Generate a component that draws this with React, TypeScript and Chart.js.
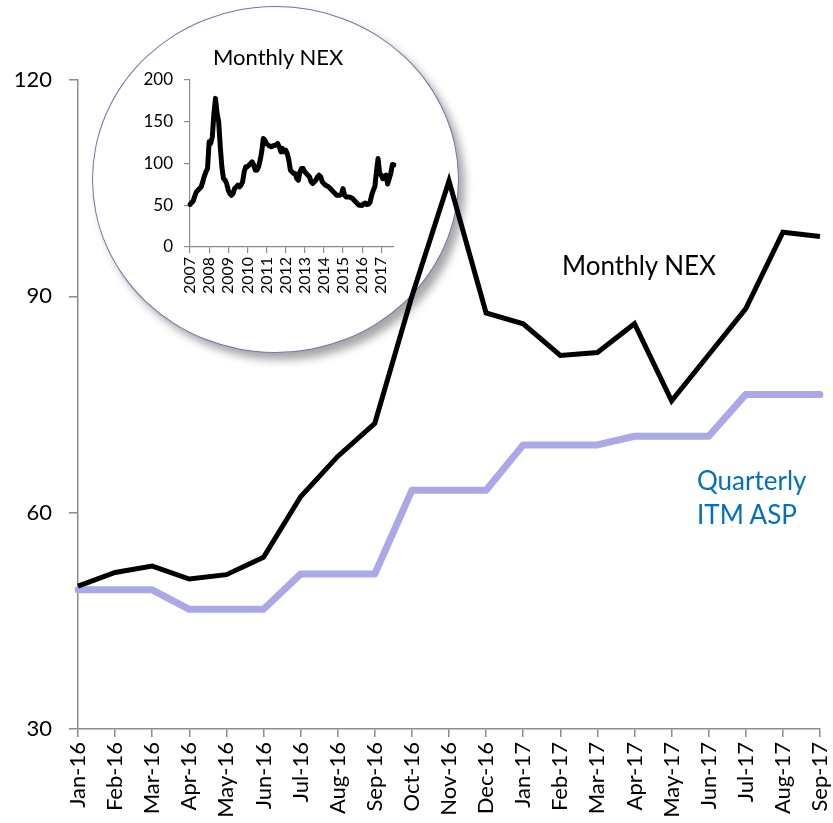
import React, { useEffect, useRef } from "react";
import { Chart, registerables } from "chart.js";

Chart.register(...registerables);

// ---- Main chart data ----
const months = [
  "Jan-16", "Feb-16", "Mar-16", "Apr-16", "May-16", "Jun-16", "Jul-16", "Aug-16", "Sep-16",
  "Oct-16", "Nov-16", "Dec-16", "Jan-17", "Feb-17", "Mar-17", "Apr-17", "May-17", "Jun-17",
  "Jul-17", "Aug-17", "Sep-17",
];
const monthlyNEX = [
  49.8, 51.7, 52.6, 50.8, 51.4, 53.8, 62.2, 67.8, 72.4, 90.0, 106.0, 87.7,
  86.2, 81.8, 82.2, 86.2, 75.5, 81.9, 88.3, 98.9, 98.3,
];
const quarterlyITMASP = [
  49.3, 49.3, 49.3, 46.6, 46.6, 46.6, 51.5, 51.5, 51.5, 63.1, 63.1, 63.1,
  69.4, 69.4, 69.4, 70.6, 70.6, 70.6, 76.4, 76.4, 76.4,
];
const mainYTicks = [30, 60, 90, 120];

// ---- Inset data (monthly, Jan 2007 - Dec 2015; 2016-2017 from monthlyNEX) ----
const insetYears = ["2007", "2008", "2009", "2010", "2011", "2012", "2013", "2014", "2015", "2016", "2017"];
const nex2007 = [51, 53, 55, 61, 66, 68, 70, 72, 78, 85, 90, 94];
const nex2008 = [126, 124, 132, 160, 178, 160, 150, 120, 96, 82, 80, 76];
const nex2009 = [68, 64, 62, 64, 70, 72, 74, 72, 74, 78, 90, 96];
const nex2010 = [96, 98, 100, 102, 98, 92, 92, 96, 104, 114, 130, 128];
const nex2011 = [124, 122, 121, 120, 121, 122, 122, 124, 120, 114, 118, 114];
const nex2012 = [116, 112, 104, 92, 90, 88, 88, 82, 80, 90, 94, 94];
const nex2013 = [90, 88, 86, 84, 78, 76, 78, 80, 84, 86, 84, 78];
const nex2014 = [76, 74, 73, 72, 70, 68, 66, 64, 62, 62, 62, 63];
const nex2015 = [70, 62, 60, 60, 60, 59, 58, 56, 54, 52, 50, 50];
const insetYTicks = [0, 50, 100, 150, 200];

const insetValues = [
  ...nex2007, ...nex2008, ...nex2009, ...nex2010, ...nex2011,
  ...nex2012, ...nex2013, ...nex2014, ...nex2015, ...monthlyNEX,
];
const insetLabels = insetValues.map((_, i) => insetYears[Math.floor(i / 12)] + "-" + ((i % 12) + 1));

const FONT = "Lato, 'Open Sans', sans-serif";
const AXIS = "#8c8c8c";

function MainChart() {
  const ref = useRef<HTMLCanvasElement | null>(null);
  useEffect(() => {
    const chart = new Chart(ref.current as HTMLCanvasElement, {
      type: "line",
      data: {
        labels: months,
        datasets: [
          {
            label: "Monthly NEX",
            data: monthlyNEX,
            borderColor: "#000000",
            borderWidth: 5,
            pointRadius: 0,
            tension: 0,
            borderJoinStyle: "miter",
          },
          {
            label: "Quarterly ITM ASP",
            data: quarterlyITMASP,
            borderColor: "#aaa8e6",
            borderWidth: 7,
            pointRadius: 0,
            tension: 0,
            borderCapStyle: "round",
            borderJoinStyle: "round",
          },
        ],
      },
      options: {
        responsive: false,
        animation: false,
        layout: { padding: { left: 0, top: 80, right: 13, bottom: 0 } },
        plugins: { legend: { display: false }, tooltip: { enabled: false }, title: { display: false } },
        scales: {
          x: {
            type: "category",
            offset: false,
            afterFit: (s: any) => { s.height = 94; s.paddingLeft = 0; s.paddingRight = 0; },
            grid: { drawOnChartArea: false, drawTicks: true, tickLength: 8, color: AXIS, lineWidth: 1.5 },
            border: { display: true, color: AXIS, width: 1.5 },
            ticks: {
              autoSkip: false,
              maxRotation: 90,
              minRotation: 90,
              padding: 5,
              color: "#000",
              font: { family: FONT, size: 22 },
            },
          },
          y: {
            min: 30,
            max: 120,
            afterFit: (s: any) => { s.width = 78; s.paddingTop = 0; s.paddingBottom = 0; },
            afterBuildTicks: (s: any) => { s.ticks = mainYTicks.map((v) => ({ value: v })); },
            grid: { drawOnChartArea: false, drawTicks: true, tickLength: 9, color: AXIS, lineWidth: 1.5 },
            border: { display: true, color: AXIS, width: 1.5 },
            ticks: {
              padding: 17,
              color: "#000",
              font: { family: FONT, size: 22 },
            },
          },
        },
      },
    });
    return () => chart.destroy();
  }, []);
  return (
    <canvas
      ref={ref}
      width={833}
      height={823}
      style={{ position: "absolute", left: 0, top: 0, width: 833, height: 823, zIndex: 3 }}
    />
  );
}

function InsetChart() {
  const ref = useRef<HTMLCanvasElement | null>(null);
  useEffect(() => {
    const chart = new Chart(ref.current as HTMLCanvasElement, {
      type: "line",
      data: {
        labels: insetLabels,
        datasets: [
          {
            label: "Monthly NEX",
            data: insetValues,
            borderColor: "#000000",
            borderWidth: 5,
            pointRadius: 0,
            tension: 0,
            borderJoinStyle: "round",
            borderCapStyle: "round",
          },
        ],
      },
      options: {
        responsive: false,
        animation: false,
        layout: { padding: { left: 0, top: 74, right: 65, bottom: 0 } },
        plugins: { legend: { display: false }, tooltip: { enabled: false }, title: { display: false } },
        scales: {
          x: {
            type: "category",
            offset: false,
            afterFit: (s: any) => { s.height = 106; s.paddingLeft = 0; s.paddingRight = 0; },
            grid: { drawOnChartArea: false, drawTicks: true, tickLength: 6, color: AXIS, lineWidth: 1.2 },
            border: { display: true, color: AXIS, width: 1.2 },
            ticks: {
              autoSkip: false,
              maxRotation: 90,
              minRotation: 90,
              padding: 4,
              color: "#000",
              font: { family: FONT, size: 16 },
              callback: (_v: any, i: number) => (i % 12 === 0 ? insetYears[i / 12] : null),
            },
          },
          y: {
            min: 0,
            max: 200,
            afterFit: (s: any) => { s.width = 98; s.paddingTop = 0; s.paddingBottom = 0; },
            afterBuildTicks: (s: any) => { s.ticks = insetYTicks.map((v) => ({ value: v })); },
            grid: { drawOnChartArea: false, drawTicks: true, tickLength: 6, color: AXIS, lineWidth: 1.2 },
            border: { display: true, color: AXIS, width: 1.2 },
            ticks: {
              padding: 11,
              color: "#000",
              font: { family: FONT, size: 17 },
            },
          },
        },
      },
    });
    return () => chart.destroy();
  }, []);
  return (
    <canvas
      ref={ref}
      width={367}
      height={347}
      style={{ position: "absolute", left: 92, top: 6, width: 367, height: 347, zIndex: 2 }}
    />
  );
}

export default function App() {
  const textBase: React.CSSProperties = {
    position: "absolute",
    fontFamily: FONT,
    whiteSpace: "nowrap",
    lineHeight: 1,
    zIndex: 4,
  };
  return (
    <div style={{ position: "absolute", left: 0, top: 0, width: 833, height: 823, background: "#fff", overflow: "hidden" }}>
      <div
        style={{
          position: "absolute",
          left: 92,
          top: 6,
          width: 367,
          height: 347,
          borderRadius: "50%",
          border: "1.5px solid #7672b2",
          boxSizing: "border-box",
          background: "#fff",
          boxShadow: "6px 7px 9px rgba(0,0,0,0.35)",
          zIndex: 1,
        }}
      />
      <InsetChart />
      <div style={{ ...textBase, left: 213, top: 46, fontSize: 22, color: "#000", zIndex: 2 }}>Monthly NEX</div>
      <MainChart />
      <div style={{ ...textBase, left: 562, top: 252, fontSize: 26, color: "#000" }}>Monthly NEX</div>
      <div style={{ ...textBase, left: 697, top: 467, fontSize: 26, color: "#0070c0" }}>Quarterly</div>
      <div style={{ ...textBase, left: 697, top: 501, fontSize: 26, color: "#0070c0" }}>ITM ASP</div>
    </div>
  );
}
